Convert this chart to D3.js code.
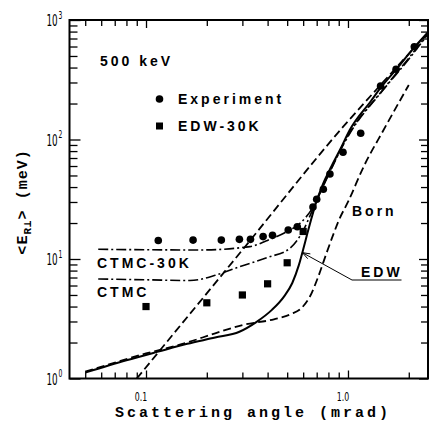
<!DOCTYPE html>
<html><head><meta charset="utf-8">
<script src="https://cdn.jsdelivr.net/npm/d3@7/dist/d3.min.js"></script>
<style>
html,body{margin:0;padding:0;background:#fff;}
svg{display:block;}
.lbl{font-family:"Liberation Sans",Arial,sans-serif;font-weight:bold;font-size:14px;letter-spacing:3px;fill:#000;}
.mono{font-family:"Liberation Mono","Courier New",monospace;font-weight:bold;fill:#000;}
.tick{font-family:"DejaVu Sans","Liberation Sans",sans-serif;fill:#000;}
</style>
</head><body>
<svg id="c" width="430" height="430"></svg>
<script>
// ---- data ----
const expX = [0.115,0.171,0.236,0.290,0.329,0.380,0.423,0.506,0.561,0.671,0.700,0.755,0.814,0.945,1.156,1.45,1.73,2.13];
const expY = [14.3,14.4,14.4,14.6,14.6,15.4,15.8,17.5,18.6,27.2,31.6,38.3,51.4,78.2,112.7,280,387,598];
const edw30kX = [0.1,0.2,0.3,0.4,0.5,0.6];
const edw30kY = [4.0,4.3,5.0,6.2,9.3,17];
const edwX = [0.05,0.08,0.115,0.16,0.22,0.29,0.35,0.42,0.48,0.53,0.57,0.60,0.63,0.66,0.69,0.75,0.83,0.92,1.02,1.3,1.45,1.73,2.13,2.49];
const edwY = [1.12,1.42,1.68,1.95,2.2,2.46,2.95,3.75,4.8,6.3,8.8,12,16.5,22,28.5,42,60,84,120,210,270,385,590,790];
const bornX = [0.05,0.1,0.16,0.22,0.3,0.43,0.52,0.59,0.65,0.71,0.78,0.85,0.9,1.0,1.2,1.5,2.0];
const bornY = [1.14,1.62,2.0,2.39,2.8,3.13,3.45,3.9,4.9,7.0,11,16.4,21,30,60,120,286];
const powX = [0.09,0.3,0.947,1.5,2.49];
const powY = [1.0,11.9,128,305,780];
const ctmc30X = [0.058,0.185,0.327,0.395,0.497,0.579,0.673,0.75,1.0,1.5,2.0,2.49];
const ctmc30Y = [12.05,11.9,12.7,14.2,16.9,19.9,27.4,40,108,265,480,770];
const ctmcX = [0.058,0.1,0.165,0.22,0.29,0.4,0.516,0.59,0.67,0.75,1.0,1.5,2.0,2.49];
const ctmcY = [6.8,6.7,6.6,7.3,8.6,10.3,12.3,16.4,26,40,106,262,470,760];
const xMajor = [0.1,1.0];
const xMajorLabels = ["0.1","1.0"];
const yMajor = [1,10,100,1000];
const yMajorExp = ["0","1","2","3"];

// ---- chart ----
const svg = d3.select("#c");
const L=69.5, R=428, T=20, B=378.5;
const x = d3.scaleLog().domain([0.0418,2.49]).range([L,R]);
const y = d3.scaleLog().domain([1,1000]).range([B,T]);

const xMinor = [];
[0.01,0.1,1].forEach(d=>{for(let k=1;k<10;k++){const v=d*k; if(v>=0.045&&v<=2.49&&!xMajor.includes(+v.toFixed(6))) xMinor.push(v);}});
const yMinor = [];
[1,10,100].forEach(d=>{for(let k=2;k<10;k++) yMinor.push(d*k);});

const g = svg.append("g");
function axisDraw(ax){ return sel=>{sel.call(ax); sel.select(".domain").remove(); sel.selectAll("text").remove(); sel.selectAll("line").attr("stroke","#000").attr("stroke-width",1.3);}; }
g.append("g").attr("transform",`translate(0,${B})`).call(axisDraw(d3.axisBottom(x).tickValues(xMinor).tickSize(-6)));
g.append("g").attr("transform",`translate(0,${B})`).call(axisDraw(d3.axisBottom(x).tickValues(xMajor).tickSize(-8)));
g.append("g").attr("transform",`translate(0,${T})`).call(axisDraw(d3.axisTop(x).tickValues(xMinor).tickSize(-6)));
g.append("g").attr("transform",`translate(0,${T})`).call(axisDraw(d3.axisTop(x).tickValues(xMajor).tickSize(-8)));
g.append("g").attr("transform",`translate(${L},0)`).call(axisDraw(d3.axisLeft(y).tickValues(yMinor).tickSize(-8)));
g.append("g").attr("transform",`translate(${L},0)`).call(axisDraw(d3.axisLeft(y).tickValues(yMajor).tickSize(-11)));
g.append("g").attr("transform",`translate(${R},0)`).call(axisDraw(d3.axisRight(y).tickValues(yMinor).tickSize(-7)));
g.append("g").attr("transform",`translate(${R},0)`).call(axisDraw(d3.axisRight(y).tickValues(yMajor).tickSize(-9)));
g.append("rect").attr("x",L).attr("y",T).attr("width",R-L).attr("height",B-T).attr("fill","none").attr("stroke","#000").attr("stroke-width",2);

// tick labels (condensed via horizontal scale, superscript exponent)
yMajor.forEach((v,i)=>{
  const t = svg.append("text").attr("class","tick").attr("font-size",16)
    .attr("transform",`translate(46.5,${y(v)+6}) scale(0.55,1)`);
  t.append("tspan").text("10");
  t.append("tspan").attr("font-size",11).attr("dx",1.5).attr("dy",-7.5).text(yMajorExp[i]);
});
xMajor.forEach((v,i)=>{
  svg.append("text").attr("class","tick").attr("font-size",13).attr("text-anchor","middle")
    .attr("transform",`translate(${x(v)-5},401) scale(0.6,1)`).text(xMajorLabels[i]);
});

// axis titles
svg.append("text").attr("class","mono").attr("x",253).attr("y",417).attr("text-anchor","middle")
  .attr("font-size",15).attr("letter-spacing",3).text("Scattering angle (mrad)");
const yl = svg.append("text").attr("class","mono").attr("transform","translate(27,202) rotate(-90)")
  .attr("text-anchor","middle").attr("font-size",15).attr("letter-spacing",1);
yl.append("tspan").text("<E");
yl.append("tspan").attr("font-size",11).attr("dy",4).text("R⊥");
yl.append("tspan").attr("dy",-4).text("> (meV)");

// curves
const line = d3.line().x(d=>x(d[0])).y(d=>y(d[1])).curve(d3.curveMonotoneX);
const zip=(a,b)=>a.map((v,i)=>[v,b[i]]);
const cg = svg.append("g").attr("fill","none").attr("stroke","#000");
cg.append("path").attr("d",line(zip(powX,powY))).attr("stroke-width",1.8).attr("stroke-dasharray","8,4");
cg.append("path").attr("d",line(zip(bornX,bornY))).attr("stroke-width",1.8).attr("stroke-dasharray","8,4");
cg.append("path").attr("d",line(zip(ctmc30X,ctmc30Y))).attr("stroke-width",1.6).attr("stroke-dasharray","10,3,2,3");
cg.append("path").attr("d",line(zip(ctmcX,ctmcY))).attr("stroke-width",1.6).attr("stroke-dasharray","10,3,2,3");
cg.append("path").attr("d",line(zip(edwX,edwY))).attr("stroke-width",2);

// points
svg.append("g").selectAll("circle").data(zip(expX,expY)).join("circle")
  .attr("cx",d=>x(d[0])).attr("cy",d=>y(d[1])).attr("r",3.8).attr("fill","#000");
svg.append("g").selectAll("rect").data(zip(edw30kX,edw30kY)).join("rect")
  .attr("x",d=>x(d[0])-3.6).attr("y",d=>y(d[1])-3.6).attr("width",7.2).attr("height",7.2).attr("fill","#000");

// labels
svg.append("text").attr("class","lbl").attr("x",100).attr("y",66).text("500 keV");
svg.append("circle").attr("cx",159.5).attr("cy",99).attr("r",3.8).attr("fill","#000");
svg.append("text").attr("class","lbl").attr("x",178).attr("y",104).text("Experiment");
svg.append("rect").attr("x",156).attr("y",122.5).attr("width",7).attr("height",7).attr("fill","#000");
svg.append("text").attr("class","lbl").attr("x",178).attr("y",131).text("EDW-30K");
svg.append("text").attr("class","lbl").attr("x",97).attr("y",268).text("CTMC-30K");
svg.append("text").attr("class","lbl").attr("x",97).attr("y",297).text("CTMC");
svg.append("text").attr("class","lbl").attr("x",352).attr("y",216).text("Born");
svg.append("text").attr("class","lbl").attr("x",361).attr("y",277).text("EDW");

// EDW arrow
const tip=[x(0.595), y(11.3)];
svg.append("path").attr("d",`M401.5,280 L352,280 L${tip[0]},${tip[1]}`).attr("fill","none").attr("stroke","#000").attr("stroke-width",1);
const ang=Math.atan2(280-tip[1],352-tip[0]);
const ah=8, aw=0.35;
svg.append("path").attr("d",`M${tip[0]+ah*Math.cos(ang-aw)},${tip[1]+ah*Math.sin(ang-aw)} L${tip[0]},${tip[1]} L${tip[0]+ah*Math.cos(ang+aw)},${tip[1]+ah*Math.sin(ang+aw)}`)
  .attr("fill","none").attr("stroke","#000").attr("stroke-width",1);
</script>
</body></html>
